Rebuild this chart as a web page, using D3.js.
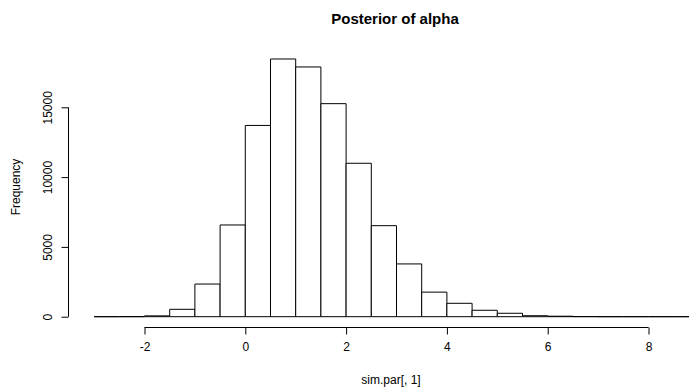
<!DOCTYPE html>
<html>
<head>
<meta charset="utf-8">
<script src="https://cdn.jsdelivr.net/npm/d3@7"></script>
<style>
  html, body { margin: 0; padding: 0; background: #fff; }
  svg text { font-family: "Liberation Sans", Arial, sans-serif; fill: #000; }
</style>
</head>
<body>
<svg id="chart" width="689" height="389"></svg>
<script>
// Histogram bins (width 0.5) and counts
const binStarts = [-3, -2.5, -2, -1.5, -1, -0.5, 0, 0.5, 1, 1.5, 2, 2.5, 3, 3.5, 4, 4.5, 5, 5.5, 6, 6.5, 7, 7.5, 8, 8.5];
const counts    = [0, 4, 60, 530, 2340, 6570, 13700, 18460, 17890, 15260, 10990, 6520, 3780, 1760, 960, 460, 245, 70, 35, 8, 0, 0, 0, 0];
const binWidth = 0.5;
const xTicks = [-2, 0, 2, 4, 6, 8];
const yTicks = [0, 5000, 10000, 15000];
const title = "Posterior of alpha";
const xLabel = "sim.par[, 1]";
const yLabel = "Frequency";

const svg = d3.select("#chart");
const x = d3.scaleLinear().domain([-2, 8]).range([144.5, 648.5]);
const y = d3.scaleLinear().domain([0, 15000]).range([316.7, 107.3]);

const bins = binStarts.map((s, i) => ({x0: s, x1: s + binWidth, n: counts[i]}));

svg.append("g").selectAll("path").data(bins).enter().append("path")
  .attr("d", d => `M${x(d.x0)},${y(0)}V${y(d.n)}H${x(d.x1)}V${y(0)}Z`)
  .attr("fill", "#fff")
  .attr("stroke", "#000")
  .attr("stroke-width", 1);

// x axis
const xAxis = d3.axisBottom(x).tickValues(xTicks).tickSize(7).tickPadding(8).tickFormat(d3.format("d"));
const gx = svg.append("g").attr("transform", "translate(0,327.5)").call(xAxis);
gx.select(".domain").attr("d", `M${x(-2)},0H${x(8)}`).attr("stroke", "#000");
gx.selectAll(".tick line").attr("stroke", "#000");
gx.selectAll("text").attr("font-size", 12).attr("font-family", "Liberation Sans, Arial, sans-serif").text(d => d < 0 ? "-" + Math.abs(d) : d);

// y axis
const yAxis = d3.axisLeft(y).tickValues(yTicks).tickSize(7).tickPadding(0).tickFormat(d3.format("d"));
const gy = svg.append("g").attr("transform", "translate(68.5,0)").call(yAxis);
gy.select(".domain").attr("d", `M0,${y(0)}V${y(15000)}`).attr("stroke", "#000");
gy.selectAll(".tick line").attr("stroke", "#000");
gy.selectAll(".tick text")
  .attr("font-size", 12)
  .attr("font-family", "Liberation Sans, Arial, sans-serif")
  .attr("text-anchor", "middle")
  .attr("x", null).attr("dy", null)
  .attr("transform", "translate(-17,0) rotate(-90)")
  .attr("dominant-baseline", "auto")
  .attr("y", 0);

svg.append("text").attr("x", 395).attr("y", 24).attr("text-anchor", "middle")
  .attr("font-size", 15).attr("font-weight", "bold").text(title);
svg.append("text").attr("x", 391).attr("y", 384).attr("text-anchor", "middle")
  .attr("font-size", 12).text(xLabel);
svg.append("text").attr("transform", "translate(20,187) rotate(-90)").attr("text-anchor", "middle")
  .attr("font-size", 12).text(yLabel);
</script>
</body>
</html>
